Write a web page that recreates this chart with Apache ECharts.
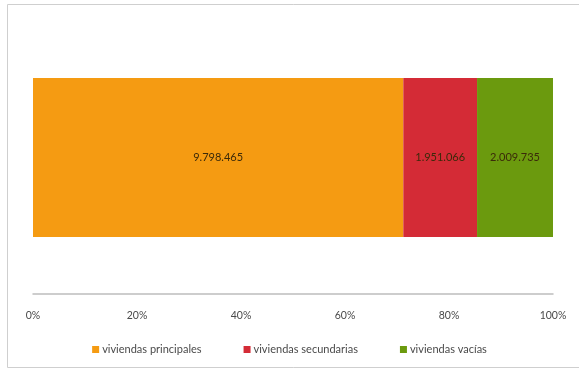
<!DOCTYPE html>
<html>
<head>
<meta charset="utf-8">
<script src="https://cdn.jsdelivr.net/npm/echarts@6/dist/echarts.min.js"></script>
<style>
  html, body { margin: 0; padding: 0; background: #fff; }
  #chart { width: 579px; height: 371px; }
</style>
</head>
<body>
<div id="chart"></div>
<script>
// Parque de viviendas: principales, secundarias y vacías (barra 100% apilada)
const seriesNames = ['viviendas principales', 'viviendas secundarias', 'viviendas vacías'];
const seriesValues = [9798465, 1951066, 2009735];
const seriesColors = ['#F59B12', '#D42B36', '#6B9A0E'];
const category = ['Total'];
const tickLabels = ['0%', '20%', '40%', '60%', '80%', '100%'];

const total = seriesValues.reduce((a, b) => a + b, 0);
const fmt = v => String(v).replace(/\B(?=(\d{3})+(?!\d))/g, '.');

const chart = echarts.init(document.getElementById('chart'), null, { renderer: 'canvas' });

const series = seriesNames.map((name, i) => ({
  name: name,
  type: 'bar',
  stack: 'total',
  barWidth: '100%',
  itemStyle: { color: seriesColors[i] },
  label: {
    show: true,
    position: 'inside',
    color: '#3b2a0a',
    fontFamily: 'Lato',
    fontSize: 11,
    formatter: () => fmt(seriesValues[i])
  },
  data: [seriesValues[i] / total * 100]
}));

chart.setOption({
  animation: false,
  backgroundColor: '#fff',
  graphic: [{
    type: 'rect',
    shape: { x: 7.5, y: 4.5, width: 600, height: 363 },
    style: { fill: 'none', stroke: '#cfcfcf', lineWidth: 1 },
    silent: true
  }],
  grid: { left: 33, right: 26, top: 78, height: 159 },
  xAxis: {
    type: 'value',
    min: 0,
    max: 100,
    interval: 20,
    offset: 57,
    axisLine: { show: true, lineStyle: { color: '#bdbdbd', width: 1.5 } },
    axisTick: { show: false },
    splitLine: { show: false },
    axisLabel: {
      margin: 16,
      color: '#4a4a4a',
      fontFamily: 'Lato',
      fontSize: 10.5,
      formatter: v => tickLabels[Math.round(v / 20)]
    }
  },
  yAxis: {
    type: 'category',
    data: category,
    show: false
  },
  legend: {
    bottom: 11,
    left: 'center',
    itemWidth: 7,
    itemHeight: 7,
    itemGap: 42,
    icon: 'rect',
    textStyle: { color: '#4a4a4a', fontFamily: 'Lato', fontSize: 11, padding: [0, 0, 0, -2] },
    data: seriesNames
  },
  series: series
});
</script>
</body>
</html>
